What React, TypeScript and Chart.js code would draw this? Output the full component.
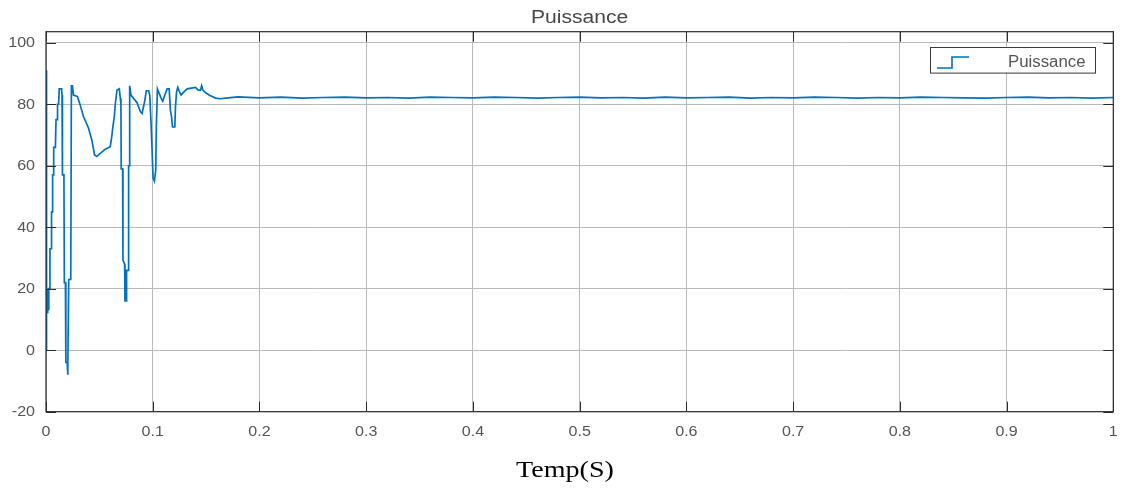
import React, { useEffect, useRef } from "react";
import { Chart, registerables } from "chart.js";

Chart.register(...registerables);

// Transient part of the power signal (time in s, power)
const transientTimes = [
  0, 0.0002, 0.0008, 0.0012, 0.0016, 0.002, 0.0024, 0.0028, 0.0034, 0.0037,
  0.0047, 0.0052, 0.0058, 0.0062, 0.0068, 0.0072, 0.0088, 0.0094, 0.0104, 0.0108,
  0.0118, 0.0124, 0.0146, 0.015, 0.0154, 0.0168, 0.0172, 0.0182, 0.0186, 0.0198,
  0.0203, 0.0206, 0.0213, 0.0232, 0.0238, 0.0248, 0.0257, 0.0295, 0.032, 0.0351,
  0.0398, 0.0429, 0.0455, 0.0476, 0.0508, 0.0555, 0.0602, 0.0618, 0.0627, 0.064,
  0.0649, 0.0665, 0.0687, 0.0696, 0.0702, 0.0705, 0.0718, 0.0721, 0.0737, 0.074,
  0.0752, 0.0755, 0.0771, 0.0774, 0.078, 0.0784, 0.0796, 0.0853, 0.0884, 0.09,
  0.0925, 0.094, 0.0962, 0.0972, 0.0984, 0.0994, 0.1003, 0.1016, 0.1028, 0.1034,
  0.1044, 0.106, 0.1078, 0.1094, 0.1113, 0.1135, 0.1154, 0.1166, 0.1176, 0.1185,
  0.1207, 0.1213, 0.1223, 0.1235, 0.1251, 0.1266, 0.1292, 0.1323, 0.1401, 0.1426,
  0.1448, 0.1458, 0.147, 0.1486, 0.1527, 0.1589, 0.1636, 0.1683,
];
const transientValues = [
  91, 0, 12, 20, 12, 20, 13, 20, 20, 33,
  33, 45, 45, 57, 57, 66, 66, 75, 75, 80,
  80, 85, 85, 83, 57, 57, 22, 22, -4, -4,
  -8, -4, 23, 23, 86, 86, 83, 82.5, 79.8, 76,
  72.3, 68.4, 63.5, 63, 64, 65.4, 66.2, 70, 72.7, 76,
  80, 84.6, 85, 82, 80, 59, 59, 29.3, 28, 16,
  16, 26, 26, 60, 60, 86, 83, 80.5, 77.6, 77,
  81, 84.4, 84.4, 83, 74, 65, 56, 55, 58.6, 73,
  85, 83.6, 82, 81, 83, 85, 85, 78, 76, 72.6,
  72.6, 79, 84, 85.5, 84, 83, 84, 85, 85.5, 84.6,
  84.6, 86, 84.6, 84, 83, 82, 81.8, 82,
];

// Steady-state part, sampled every 0.02 s from 0.18 s to 1 s
const steadyStart = 0.18;
const steadyStep = 0.02;
const steadyValues = [
  82.4, 82.1, 82.3, 82.0, 82.2, 82.3, 82.1, 82.2, 82.0, 82.3,
  82.2, 82.1, 82.3, 82.2, 82.0, 82.2, 82.3, 82.1, 82.2, 82.0,
  82.3, 82.1, 82.2, 82.3, 82.0, 82.2, 82.1, 82.3, 82.2, 82.0,
  82.2, 82.1, 82.3, 82.2, 82.1, 82.0, 82.2, 82.3, 82.1, 82.2,
  82.0, 82.2,
];

const xTicks = [0, 0.1, 0.2, 0.3, 0.4, 0.5, 0.6, 0.7, 0.8, 0.9, 1];
const xTickLabels = ["0", "0.1", "0.2", "0.3", "0.4", "0.5", "0.6", "0.7", "0.8", "0.9", "1"];
const yTicks = [-20, 0, 20, 40, 60, 80, 100];
const yTickLabels = ["-20", "0", "20", "40", "60", "80", "100"];

const titleText = "Puissance";
const seriesName = "Puissance";
const xAxisLabel = "Temp(S)";

const LINE_COLOR = "#0072BD";
const FRAME_COLOR = "#2b2b2b";
const GRID_COLOR = "#bababa";
const TEXT_GREY = "#555555";

function drawStretched(
  ctx: CanvasRenderingContext2D,
  text: string,
  x: number,
  y: number,
  font: string,
  color: string,
  align: CanvasTextAlign,
  baseline: CanvasTextBaseline,
  sx: number
) {
  ctx.save();
  ctx.translate(x, y);
  ctx.scale(sx, 1);
  ctx.font = font;
  ctx.fillStyle = color;
  ctx.textAlign = align;
  ctx.textBaseline = baseline;
  ctx.fillText(text, 0, 0);
  ctx.restore();
}

const decorPlugin = {
  id: "figureDecor",
  afterDatasetsDraw(chart: any) {
    const { ctx, chartArea, scales } = chart;
    const { left, right, top, bottom } = chartArea;
    const xs = scales.x;
    const ys = scales.y;
    ctx.save();
    ctx.strokeStyle = FRAME_COLOR;
    ctx.lineWidth = 1.2;
    ctx.strokeRect(left, top, right - left, bottom - top);
    const tl = 10;
    ctx.lineWidth = 1;
    ctx.beginPath();
    xTicks.forEach((v) => {
      const px = Math.round(xs.getPixelForValue(v)) + 0.5;
      ctx.moveTo(px, bottom);
      ctx.lineTo(px, bottom - tl);
      ctx.moveTo(px, top);
      ctx.lineTo(px, top + tl);
    });
    yTicks.forEach((v) => {
      const py = Math.round(ys.getPixelForValue(v)) + 0.5;
      ctx.moveTo(left, py);
      ctx.lineTo(left + tl, py);
      ctx.moveTo(right, py);
      ctx.lineTo(right - tl, py);
    });
    ctx.stroke();
    ctx.restore();
  },
  afterDraw(chart: any) {
    const { ctx, chartArea, scales } = chart;
    const xs = scales.x;
    const ys = scales.y;
    const tickFont = "15px 'Liberation Sans', Arial, sans-serif";

    xTicks.forEach((v, i) => {
      drawStretched(ctx, xTickLabels[i], xs.getPixelForValue(v), 431.5, tickFont, TEXT_GREY, "center", "middle", 1.07);
    });
    yTicks.forEach((v, i) => {
      drawStretched(ctx, yTickLabels[i], 35, ys.getPixelForValue(v) + 0.5, tickFont, TEXT_GREY, "right", "middle", 1.07);
    });

    // title
    drawStretched(
      ctx,
      titleText,
      (chartArea.left + chartArea.right) / 2,
      23,
      "18px 'Liberation Sans', Arial, sans-serif",
      "#474747",
      "center",
      "alphabetic",
      1.17
    );

    // x-axis label
    drawStretched(
      ctx,
      xAxisLabel,
      565,
      477,
      "24px 'Liberation Serif', 'Times New Roman', serif",
      "#000000",
      "center",
      "alphabetic",
      1.17
    );

    // legend
    ctx.save();
    const lx = 930, ly = 46.7, lw = 165, lh = 25.6;
    ctx.fillStyle = "#ffffff";
    ctx.fillRect(lx, ly, lw, lh);
    ctx.strokeStyle = "#3a3a3a";
    ctx.lineWidth = 1;
    ctx.strokeRect(Math.round(lx) + 0.5, Math.round(ly) + 0.5, lw, lh);
    ctx.strokeStyle = LINE_COLOR;
    ctx.lineWidth = 1.6;
    ctx.beginPath();
    ctx.moveTo(937, 68);
    ctx.lineTo(952, 68);
    ctx.lineTo(952, 57);
    ctx.lineTo(969, 57);
    ctx.stroke();
    ctx.restore();
    drawStretched(
      ctx,
      seriesName,
      1008,
      66.5,
      "16px 'Liberation Sans', Arial, sans-serif",
      TEXT_GREY,
      "left",
      "alphabetic",
      1.05
    );
  },
};

export default function App() {
  const canvasRef = useRef<HTMLCanvasElement | null>(null);

  useEffect(() => {
    document.body.style.margin = "0";
    const canvas = canvasRef.current;
    if (!canvas) return;

    const points = transientTimes.map((t, i) => ({ x: t, y: transientValues[i] }));
    steadyValues.forEach((v, i) => {
      points.push({ x: +(steadyStart + i * steadyStep).toFixed(4), y: v });
    });

    const chart = new Chart(canvas, {
      type: "line",
      data: {
        datasets: [
          {
            label: seriesName,
            data: points,
            borderColor: LINE_COLOR,
            borderWidth: 1.7,
            pointRadius: 0,
            tension: 0,
            fill: false,
          },
        ],
      },
      options: {
        responsive: false,
        animation: false,
        devicePixelRatio: 1,
        layout: { padding: { top: 31.7, right: 10.7, left: 0, bottom: 0 } },
        plugins: {
          legend: { display: false },
          tooltip: { enabled: false },
          title: { display: false },
        },
        scales: {
          x: {
            type: "linear",
            min: 0,
            max: 1,
            border: { display: false },
            grid: { color: GRID_COLOR, lineWidth: 1, drawTicks: false },
            ticks: { display: false },
            afterBuildTicks: (scale: any) => {
              scale.ticks = xTicks.map((v) => ({ value: v }));
            },
            afterFit: (scale: any) => {
              scale.height = 76.3;
            },
          },
          y: {
            type: "linear",
            min: -20,
            max: 103.6,
            border: { display: false },
            grid: { color: GRID_COLOR, lineWidth: 1, drawTicks: false },
            ticks: { display: false },
            afterBuildTicks: (scale: any) => {
              scale.ticks = yTicks.map((v) => ({ value: v }));
            },
            afterFit: (scale: any) => {
              scale.width = 46;
            },
          },
        },
      } as any,
      plugins: [decorPlugin],
    });

    return () => {
      chart.destroy();
    };
  }, []);

  return (
    <div style={{ width: 1124, height: 488, background: "#ffffff" }}>
      <canvas ref={canvasRef} width={1124} height={488} style={{ display: "block" }} />
    </div>
  );
}
